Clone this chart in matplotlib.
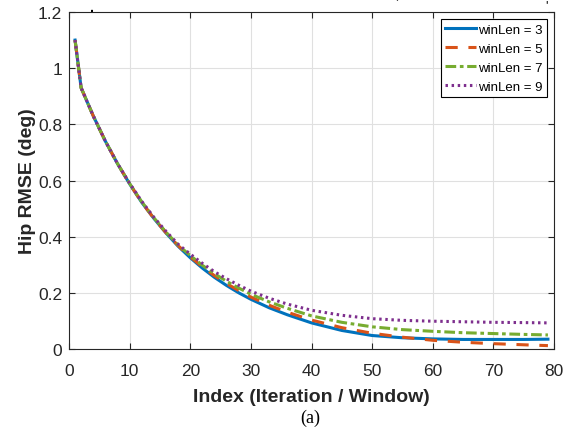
import numpy as np
import matplotlib
matplotlib.use("Agg")
import matplotlib.pyplot as plt

idx = [1, 2, 3, 4, 5, 6, 8, 10, 12, 14, 16, 18, 20, 22, 24, 26, 28, 30,
       33, 36, 40, 45, 50, 55, 60, 65, 70, 75, 79]

rmse_w3 = [1.10, 0.93, 0.88, 0.83, 0.785, 0.74, 0.66, 0.588, 0.522, 0.465, 0.413, 0.366,
           0.325, 0.288, 0.255, 0.226, 0.200, 0.177, 0.147, 0.122, 0.093, 0.066, 0.048,
           0.040, 0.036, 0.034, 0.034, 0.034, 0.035]
rmse_w5 = [1.10, 0.93, 0.88, 0.83, 0.785, 0.74, 0.66, 0.588, 0.522, 0.465, 0.414, 0.368,
           0.328, 0.293, 0.261, 0.233, 0.208, 0.185, 0.156, 0.131, 0.103, 0.076, 0.056,
           0.042, 0.031, 0.024, 0.019, 0.015, 0.012]
rmse_w7 = [1.10, 0.93, 0.88, 0.83, 0.785, 0.74, 0.66, 0.589, 0.524, 0.467, 0.416, 0.370,
           0.333, 0.298, 0.268, 0.241, 0.217, 0.195, 0.168, 0.145, 0.118, 0.095, 0.079,
           0.069, 0.063, 0.058, 0.055, 0.052, 0.050]
rmse_w9 = [1.10, 0.93, 0.88, 0.83, 0.785, 0.74, 0.66, 0.590, 0.526, 0.469, 0.419, 0.373,
           0.338, 0.305, 0.275, 0.250, 0.227, 0.206, 0.181, 0.160, 0.138, 0.120, 0.108,
           0.102, 0.099, 0.097, 0.095, 0.094, 0.093]

labels = ["winLen = 3", "winLen = 5", "winLen = 7", "winLen = 9"]
colors = [(0, 0.447, 0.741), (0.85, 0.325, 0.098), (0.466, 0.674, 0.188), (0.494, 0.184, 0.556)]

plt.rcParams['font.family'] = ['Liberation Sans', 'DejaVu Sans']

fig = plt.figure(figsize=(5.72, 4.35), dpi=100)
ax = fig.add_axes([69/572, 1-350/435, (554-69)/572, (350-13)/435])

ax.plot(idx, rmse_w3, color=colors[0], lw=2.2, ls='-', label=labels[0])
ax.plot(idx, rmse_w5, color=colors[1], lw=2.2, ls=(0, (4, 3.5)), label=labels[1])
ax.plot(idx, rmse_w7, color=colors[2], lw=2.2, ls=(0, (3.5, 1.2, 1.2, 1.2)), label=labels[2])
ax.plot(idx, rmse_w9, color=colors[3], lw=2.2, ls=(0, (0.8, 1.2)), label=labels[3])

ax.set_xlim(0, 80)
ax.set_ylim(0, 1.2)
ax.set_xticks(np.arange(0, 81, 10))
ax.set_yticks([0, 0.2, 0.4, 0.6, 0.8, 1, 1.2])
ax.set_yticklabels(['0', '0.2', '0.4', '0.6', '0.8', '1', '1.2'])
ax.grid(True, color=(0.88, 0.88, 0.88), lw=0.8)
ax.set_axisbelow(True)
ax.tick_params(direction='in', length=4, width=0.8, colors=(0.15, 0.15, 0.15),
               labelsize=12.5, top=True, right=True)
ax.tick_params(axis='x', pad=10)
ax.tick_params(axis='y', pad=5)
for s in ax.spines.values():
    s.set_color((0.15, 0.15, 0.15))
    s.set_linewidth(0.8)

ax.set_xlabel("Index (Iteration / Window)", fontsize=14, fontweight='bold',
              color=(0.15, 0.15, 0.15), labelpad=7)
ax.set_ylabel("Hip RMSE (deg)", fontsize=14, fontweight='bold',
              color=(0.15, 0.15, 0.15), labelpad=1)

leg = ax.legend(loc='upper right', fontsize=9.5, handlelength=2.3, handletextpad=0.15,
                borderpad=0.35, labelspacing=0.5, fancybox=False, framealpha=1,
                borderaxespad=0.55)
leg.get_frame().set_edgecolor('black')
leg.get_frame().set_linewidth(0.8)

# small stray marks above the plot frame
fig.text(92/572, 1-8/435, ".", ha='center', va='center', fontsize=10, fontweight='bold')
fig.text(396/572, 1-6/435, "`", ha='center', va='center', fontsize=9)
fig.text(546/572, 1-6/435, "'", ha='center', va='center', fontsize=9)

fig.text(310/572, 1-418/435, "(a)", ha='center', va='center', fontsize=13,
         family=['Liberation Serif', 'DejaVu Serif'])

plt.savefig("out.png", dpi=100)
